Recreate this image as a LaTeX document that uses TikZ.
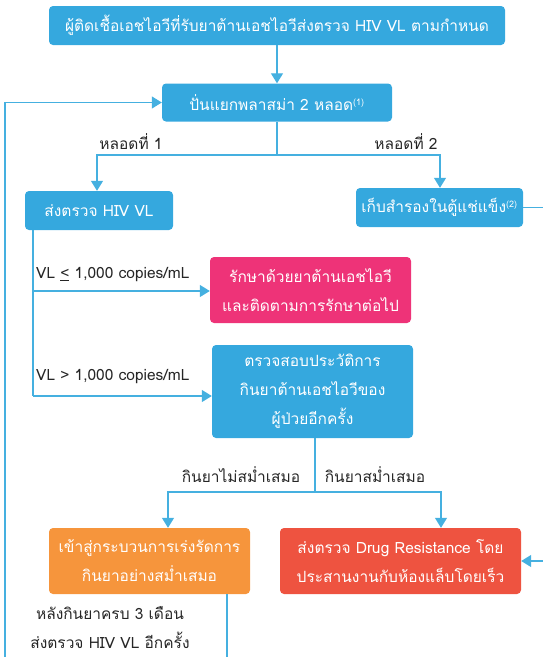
\documentclass[tikz,border=0pt]{standalone}
\usepackage{fontspec}
\setmainfont[Script=Thai]{Loma}
\usetikzlibrary{arrows.meta}
\definecolor{flowblue}{HTML}{35A8DE}
\definecolor{flowpink}{HTML}{EE3378}
\definecolor{floworange}{HTML}{F6953C}
\definecolor{flowred}{HTML}{EE5340}
\definecolor{flowline}{HTML}{45B0E0}
\tikzset{
  box/.style={rounded corners=4pt, fill=#1, text=white, inner sep=0pt,
    align=center, font=\fontsize{15.5}{29}\selectfont},
  box/.default=flowblue,
  lbl/.style={text=black!85, inner sep=0pt, font=\fontsize{15.5}{29}\selectfont},
  link/.style={draw=flowline, line width=1.3pt},
  arr/.style={link, -{Triangle[length=10pt,width=12pt]}},
}
\newcommand{\supnote}[1]{\textsuperscript{\fontsize{9}{9}\selectfont(#1)}}
\begin{document}
\begin{tikzpicture}[x=1pt,y=-1pt]
\useasboundingbox (0,0) rectangle (543,657);

% boxes
\node[box, minimum width=456pt, minimum height=39pt] (b1) at (277,25.5)
  {ผู้ติดเชื้อเอชไอวีที่รับยาต้านเอชไอวีส่งตรวจ HIV VL ตามกำหนด};
\node[box, minimum width=230pt, minimum height=38pt] (b2) at (277,102.5)
  {ปั่นแยกพลาสม่า 2 หลอด\supnote{1}};
\node[box, minimum width=148pt, minimum height=39pt] (b3) at (99,210.5)
  {ส่งตรวจ HIV VL};
\node[box, minimum width=167pt, minimum height=39pt] (b4) at (439.5,207.5)
  {เก็บสำรองในตู้แช่แข็ง\supnote{2}};
\node[box=flowpink, minimum width=201pt, minimum height=66pt] (b5) at (310.5,290)
  {รักษาด้วยยาต้านเอชไอวี\\และติดตามการรักษาต่อไป};
\node[box, minimum width=201pt, minimum height=93pt] (b6) at (312.5,391.5)
  {ตรวจสอบประวัติการ\\กินยาต้านเอชไอวีของ\\ผู้ป่วยอีกครั้ง};
\node[box=floworange, minimum width=201pt, minimum height=66pt] (b7) at (149.5,561)
  {เข้าสู่กระบวนการเร่งรัดการ\\กินยาอย่างสม่ำเสมอ};
\node[box=flowred, minimum width=241pt, minimum height=66pt] (b8) at (400.5,561)
  {ส่งตรวจ Drug Resistance โดย\\ประสานงานกับห้องแล็บโดยเร็ว};

% branch points and free ends
\coordinate (s1) at (277,155);
\coordinate (c3) at (97,0);
\coordinate (c4) at (440,0);
\coordinate (v3) at (33,0);
\coordinate (r5) at (0,291);
\coordinate (r6) at (0,396);
\coordinate (s2) at (315,492);
\coordinate (c7) at (168,0);
\coordinate (c8) at (441,0);
\coordinate (o7) at (227,657);
\coordinate (loopL) at (5,657);
\coordinate (loopR) at (543,561);
\coordinate (out4) at (543,207.5);

% connectors
\draw[arr] (b1) -- (b2);
\draw[link] (b2) -- (s1);
\draw[arr] (s1) -| (c3 |- b3.north);
\draw[arr] (s1) -| (c4 |- b4.north);
\draw[link] (v3 |- b3.south) -- (v3 |- r6);
\draw[arr] (v3 |- r5) -- (b5.west |- r5);
\draw[arr] (v3 |- r6) -- (b6.west |- r6);
\draw[link] (s2 |- b6.south) -- (s2);
\draw[arr] (s2) -| (c7 |- b7.north);
\draw[arr] (s2) -| (c8 |- b8.north);
\draw[link] (o7 |- b7.south) -- (o7);
\draw[arr] (loopL) |- (b2.west);
\draw[link] (b4.east) -- (out4);
\draw[arr] (loopR) -- (b8.east);

% labels
\node[lbl] (l1) at (131,142) {หลอดที่ 1};
\node[lbl] (l2) at (406,142) {หลอดที่ 2};
\node[lbl, anchor=west] (l3) at (36,275) {VL \underline{<} 1,000 copies/mL};
\node[lbl, anchor=west] (l4) at (36,377) {VL > 1,000 copies/mL};
\node[lbl] (l5) at (241,475) {กินยาไม่สม่ำเสมอ};
\node[lbl] (l6) at (375,475) {กินยาสม่ำเสมอ};
\node[lbl, align=center] (l7) at (110,628)
  {หลังกินยาครบ 3 เดือน\\ส่งตรวจ HIV VL อีกครั้ง};
\end{tikzpicture}
\end{document}
